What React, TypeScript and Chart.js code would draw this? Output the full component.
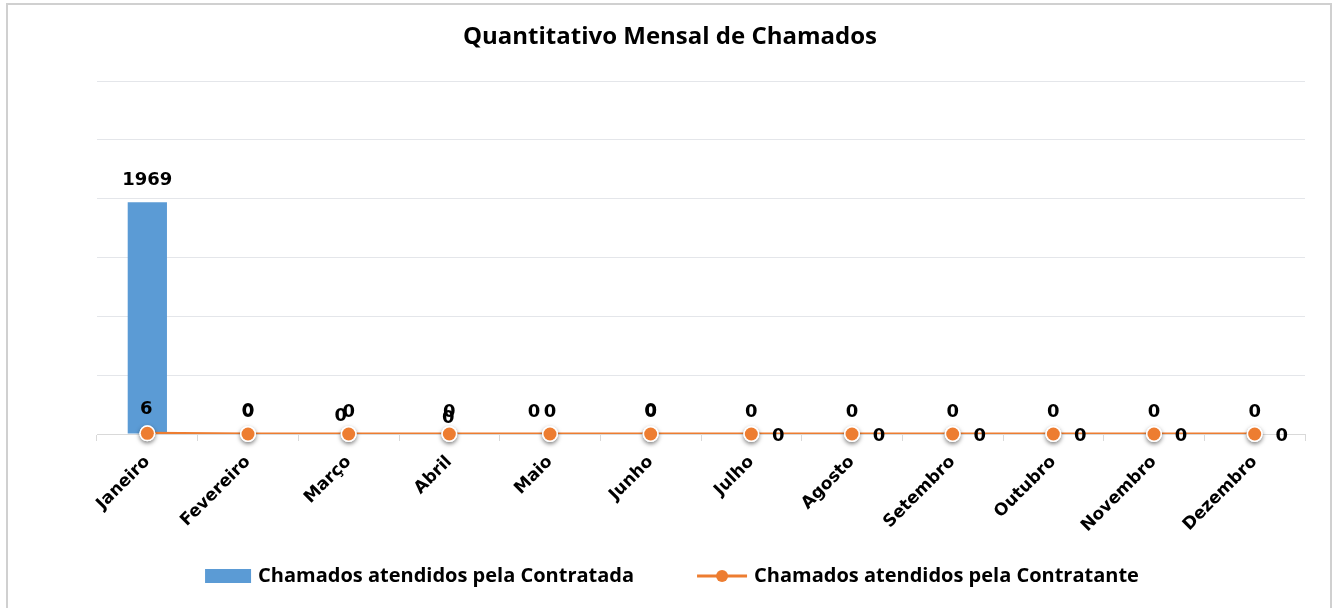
import React, { useEffect, useRef } from "react";
import { Chart, registerables } from "chart.js";

Chart.register(...registerables);

const months = ["Janeiro", "Fevereiro", "Março", "Abril", "Maio", "Junho", "Julho", "Agosto", "Setembro", "Outubro", "Novembro", "Dezembro"];
const contratada = [1969, 0, 0, 0, 0, 0, 0, 0, 0, 0, 0, 0];
const contratante = [6, 0, 0, 0, 0, 0, 0, 0, 0, 0, 0, 0];
const yMax = 3000;
const yStep = 500;

const seriesNames = ["Chamados atendidos pela Contratada", "Chamados atendidos pela Contratante"];
const BLUE = "#5B9BD5";
const ORANGE = "#ED7D31";
const LABEL_FONT = "bold 18px 'DejaVu Sans', Verdana, sans-serif";
const LEGEND_FONT = "bold 20px 'Open Sans', sans-serif";
// line label offsets relative to each point (label layout, not data)
const lineLabelOffsets: [number, number][] = [
  [-1, -24], [0, -23], [-8, -18], [-1, -16], [-16, -22], [0, -23],
  [27, 2], [27, 2], [27, 2], [27, 2], [27, 2], [27, 2],
];

const decorPlugin = {
  id: "decor",
  beforeDraw(chart: any) {
    const ctx = chart.ctx;
    ctx.save();
    ctx.fillStyle = "#ffffff";
    ctx.fillRect(0, 0, chart.width, chart.height);
    ctx.strokeStyle = "#D0D0D0";
    ctx.lineWidth = 2;
    ctx.strokeRect(7, 4, chart.width - 9, chart.height + 4);
    ctx.restore();
  },
  afterDatasetDraw(chart: any, args: any) {
    if (args.index !== 1) return;
    const ctx = chart.ctx;
    const meta = chart.getDatasetMeta(1);
    ctx.save();
    // soft drop shadow under markers
    meta.data.forEach((pt: any) => {
      ctx.save();
      ctx.beginPath();
      ctx.arc(pt.x, pt.y, 8, 0, Math.PI * 2);
      ctx.rect(pt.x + 20, pt.y - 20, -40, 40);
      ctx.clip("evenodd");
      ctx.beginPath();
      ctx.shadowColor = "rgba(0,0,0,0.5)";
      ctx.shadowBlur = 4;
      ctx.shadowOffsetY = 2;
      ctx.fillStyle = "#ffffff";
      ctx.arc(pt.x, pt.y, 8, 0, Math.PI * 2);
      ctx.fill();
      ctx.restore();
    });
    meta.data.forEach((pt: any) => {
      ctx.beginPath();
      ctx.fillStyle = "#ffffff";
      ctx.arc(pt.x, pt.y, 8, 0, Math.PI * 2);
      ctx.fill();
      ctx.beginPath();
      ctx.fillStyle = ORANGE;
      ctx.arc(pt.x, pt.y, 6.5, 0, Math.PI * 2);
      ctx.fill();
    });
    ctx.restore();
  },
  afterDatasetsDraw(chart: any) {
    const ctx = chart.ctx;
    ctx.save();
    ctx.font = LABEL_FONT;
    ctx.fillStyle = "#000000";
    ctx.textAlign = "center";
    ctx.textBaseline = "middle";
    const barMeta = chart.getDatasetMeta(0);
    barMeta.data.forEach((bar: any, i: number) => {
      ctx.fillText(String(contratada[i]), bar.x, bar.y - 22);
    });
    const lineMeta = chart.getDatasetMeta(1);
    lineMeta.data.forEach((pt: any, i: number) => {
      const [dx, dy] = lineLabelOffsets[i];
      ctx.fillText(String(contratante[i]), pt.x + dx, pt.y + dy);
    });

    // legend
    ctx.font = LEGEND_FONT;
    ctx.textAlign = "left";
    const w1 = ctx.measureText(seriesNames[0]).width;
    const w2 = ctx.measureText(seriesNames[1]).width;
    const sw1 = 46, sw2 = 50, gap = 7, itemGap = 63;
    const total = sw1 + gap + w1 + itemGap + sw2 + gap + w2;
    const cy = 576;
    let x = 672 - total / 2;
    ctx.fillStyle = BLUE;
    ctx.fillRect(x, cy - 7, sw1, 14);
    x += sw1 + gap;
    ctx.fillStyle = "#000000";
    ctx.fillText(seriesNames[0], x, cy);
    x += w1 + itemGap;
    ctx.strokeStyle = ORANGE;
    ctx.lineWidth = 3;
    ctx.beginPath();
    ctx.moveTo(x, cy);
    ctx.lineTo(x + sw2, cy);
    ctx.stroke();
    ctx.beginPath();
    ctx.fillStyle = ORANGE;
    ctx.arc(x + sw2 / 2, cy, 6, 0, Math.PI * 2);
    ctx.fill();
    x += sw2 + gap;
    ctx.fillStyle = "#000000";
    ctx.fillText(seriesNames[1], x, cy);
    ctx.restore();
  },
};

export default function App() {
  const canvasRef = useRef<HTMLCanvasElement | null>(null);

  useEffect(() => {
    document.body.style.margin = "0";
    const canvas = canvasRef.current;
    if (!canvas) return;
    const chart = new Chart(canvas, {
      type: "bar",
      data: {
        labels: months,
        datasets: [
          {
            type: "bar",
            label: seriesNames[0],
            data: contratada,
            backgroundColor: BLUE,
            barPercentage: 0.39,
            categoryPercentage: 1,
            order: 2,
          },
          {
            type: "line",
            label: seriesNames[1],
            data: contratante,
            borderColor: ORANGE,
            borderWidth: 3,
            pointRadius: 7,
            pointBackgroundColor: ORANGE,
            pointBorderColor: "#ffffff",
            pointBorderWidth: 1.5,
            tension: 0,
            order: 1,
          },
        ],
      },
      options: {
        animation: false,
        responsive: true,
        maintainAspectRatio: false,
        layout: { padding: { left: 35, right: 28, top: 0, bottom: 0 } },
        plugins: {
          legend: { display: false },
          tooltip: { enabled: false },
          title: {
            display: true,
            text: "Quantitativo Mensal de Chamados",
            color: "#000000",
            font: { family: "'Open Sans', sans-serif", size: 24, weight: "bold", lineHeight: 1.2 },
            padding: { top: 22.6, bottom: 29.6 },
          },
        },
        scales: {
          x: {
            offset: true,
            grid: {
              display: true,
              drawOnChartArea: false,
              drawTicks: true,
              tickLength: 7,
              color: "#D9D9D9",
              offset: true,
            },
            border: { display: true, color: "#D9D9D9", width: 1 },
            ticks: {
              color: "#000000",
              font: { family: "'DejaVu Sans', Verdana, sans-serif", size: 17, weight: "bold" },
              minRotation: 45,
              maxRotation: 45,
              padding: 11,
            },
            afterFit: (scale: any) => {
              scale.height = 174;
            },
          },
          y: {
            min: 0,
            max: yMax,
            ticks: { display: false, stepSize: yStep },
            grid: { color: "#E4E6EA", lineWidth: 1, drawTicks: false },
            border: { display: false },
            afterFit: (scale: any) => {
              scale.width = 62;
            },
          },
        },
      },
      plugins: [decorPlugin],
    });
    return () => chart.destroy();
  }, []);

  return (
    <div style={{ position: "relative", width: "1333px", height: "608px" }}>
      <canvas ref={canvasRef} />
    </div>
  );
}
